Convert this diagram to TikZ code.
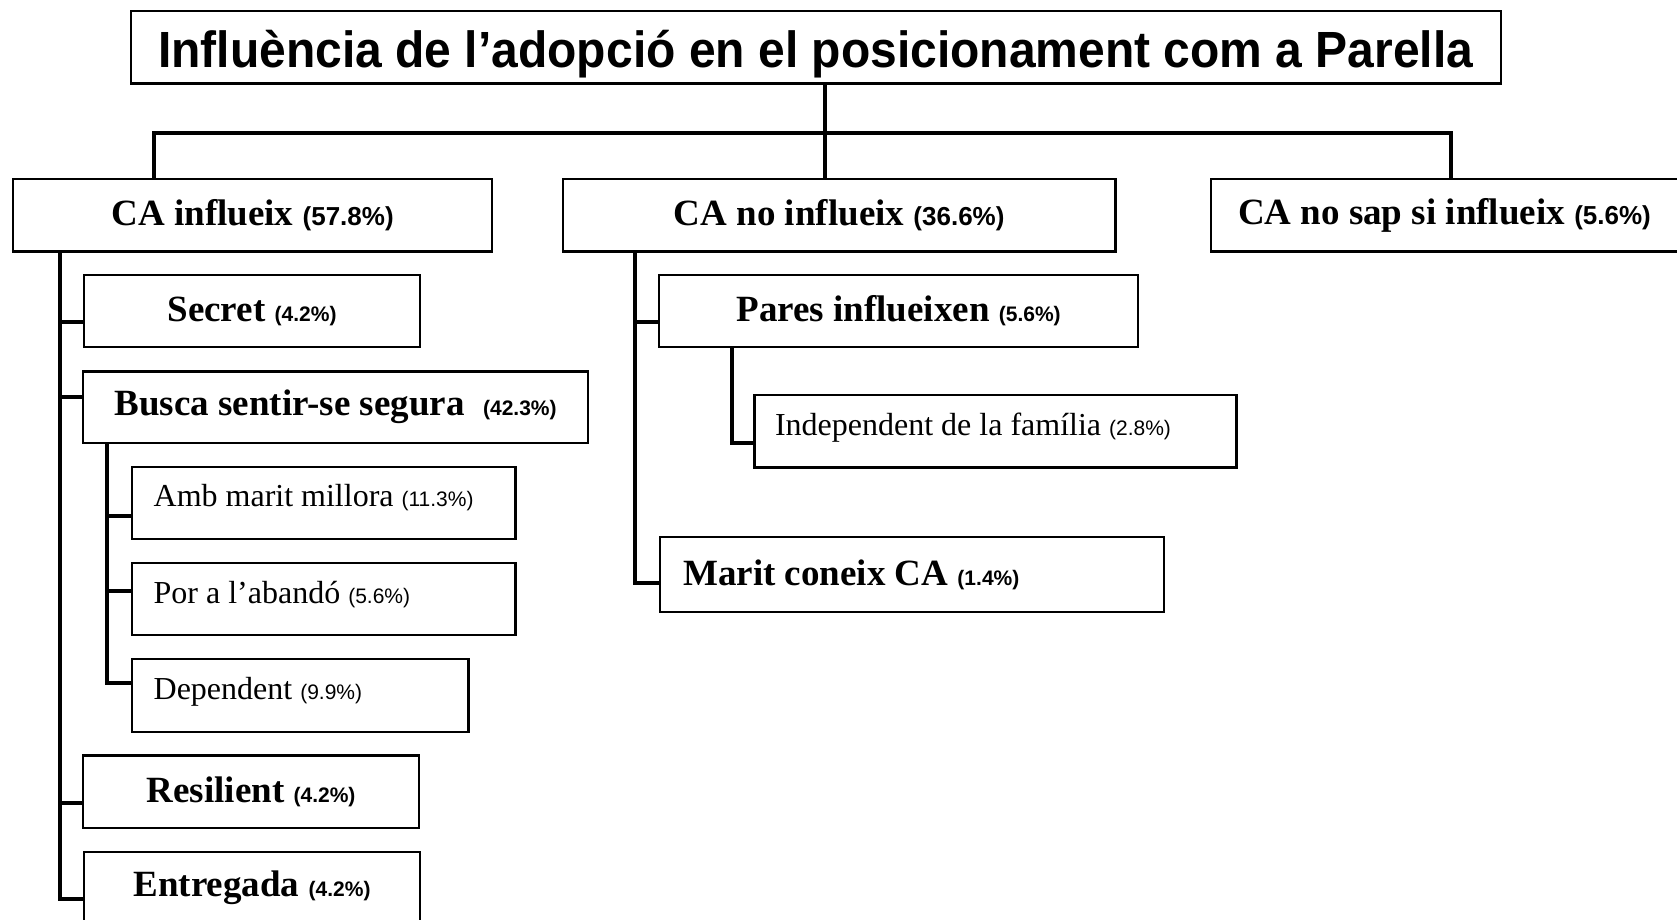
\documentclass[tikz,border=0pt]{standalone}
\usepackage{fontspec}
\setmainfont{Liberation Serif}
\newfontfamily\arialf{Liberation Sans}
\newcommand{\mytitlef}{\arialf\bfseries\fontsize{48}{52}\selectfont}
\newcommand{\mytb}{\fontsize{37}{40}\selectfont\bfseries}
\newcommand{\mypa}{\arialf\bfseries\fontsize{26}{28}\selectfont}
\newcommand{\mypb}{\arialf\bfseries\fontsize{21}{23}\selectfont}
\newcommand{\mytr}{\fontsize{32}{34}\selectfont}
\newcommand{\mypr}{\arialf\fontsize{21}{23}\selectfont}
\tikzset{
  box/.style={draw=black, line width=1.5pt, rectangle, inner sep=0pt, anchor=north west, fill=white},
  lbox/.style={box},
  tbox/.style={lbox, text height=20pt, text depth=12pt},
  conn/.style={line width=4pt, draw=black, line join=miter},
  connshadow/.style={line width=3pt, draw=black!35, line join=miter, yshift=-3pt},
}
\begin{document}
\begin{tikzpicture}[x=1pt,y=-1pt]
\useasboundingbox (0,0) rectangle (1677,920);

% ---------- nodes ----------
\node[box, minimum width=1369, minimum height=71.7, text height=40.4pt, text depth=0pt, font=\mytitlef] (title) at (130.5,10.7)
  {\scalebox{1}[1.06]{Influència de l’adopció en el posicionament com a Parella}};

\node[box, minimum width=478.1, minimum height=71.7, font=\mytb] (A) at (12.8,178.6)
  {CA influeix {\mypa (57.8\%)}};
\node[box, minimum width=551.8, minimum height=71.7, font=\mytb] (B) at (562.6,178.6)
  {CA no influeix {\mypa (36.6\%)}};
\node[box, minimum width=466, minimum height=71.7, font=\mytb] (C) at (1210.7,178.6)
  {CA no sap si influeix {\mypa (5.6\%)}};

\node[box, minimum width=335.8, minimum height=70.6, font=\mytb] (secret) at (83.4,274.9)
  {Secret {\mypb (4.2\%)}};
\node[box, minimum width=504.8, minimum height=70.6, font=\mytb] (busca) at (82.4,371.1)
  {Busca sentir-se segura~ {\mypb (42.3\%)}};
\node[tbox, minimum width=382.9, minimum height=71.7, font=\mytr] (amb) at (131.5,466.3)
  {\makebox[340.1pt][l]{Amb marit millora {\mypr (11.3\%)}}};
\node[tbox, minimum width=382.9, minimum height=71.6, font=\mytr] (por) at (131.5,562.6)
  {\makebox[340.1pt][l]{Por a l’abandó {\mypr (5.6\%)}}};
\node[tbox, minimum width=335.9, minimum height=71.7, font=\mytr] (dep) at (131.5,658.8)
  {\makebox[293.1pt][l]{Dependent {\mypr (9.9\%)}}};
\node[box, minimum width=335.8, minimum height=71.6, font=\mytb] (resil) at (82.4,755.1)
  {Resilient {\mypb (4.2\%)}};
\node[box, minimum width=335.8, minimum height=71.6, font=\mytb] (entreg) at (83.4,851.3)
  {Entregada {\mypb (4.2\%)}};

\node[box, minimum width=478.1, minimum height=70.6, font=\mytb] (pares) at (658.8,274.9)
  {Pares influeixen {\mypb (5.6\%)}};
\node[tbox, minimum width=481.3, minimum height=71.7, font=\mytr] (indep) at (754,394.6)
  {\makebox[440.7pt][l]{Independent de la família {\mypr (2.8\%)}}};
\node[lbox, minimum width=502.6, minimum height=73.8, font=\mytb] (marit) at (659.9,536.9)
  {\makebox[457.6pt][l]{Marit coneix CA {\mypb (1.4\%)}}};

% ---------- junction coordinates ----------
\coordinate (barL) at (154,132.6);
\coordinate (barM) at (824.6,132.6);
\coordinate (barR) at (1451.3,132.6);

\coordinate (jS) at (59.9,322);
\coordinate (jB) at (59.9,396.7);
\coordinate (jR) at (59.9,802.7);
\coordinate (jE) at (59.9,899.3);

\coordinate (jAm) at (106.7,515.7);
\coordinate (jP) at (106.7,590.7);
\coordinate (jD) at (106.7,683.3);

\coordinate (jPa) at (635.3,321.7);
\coordinate (jM) at (635.3,583.3);
\coordinate (jI) at (731.5,442.7);

% ---------- connectors ----------
\foreach \s in {connshadow,conn}{
  \draw[\s] (title.south -| barM) -- (barM);
  \draw[\s] (barL |- A.north) -- (barL) -- (barR) -- (barR |- C.north);
  \draw[\s] (barM) -- (barM |- B.north);
  % under A
  \draw[\s] (A.south -| jE) -- (jE) -- (jE -| entreg.west);
  \draw[\s] (jS) -- (jS -| secret.west);
  \draw[\s] (jB) -- (jB -| busca.west);
  \draw[\s] (jR) -- (jR -| resil.west);
  % under busca
  \draw[\s] (busca.south -| jD) -- (jD) -- (jD -| dep.west);
  \draw[\s] (jAm) -- (jAm -| amb.west);
  \draw[\s] (jP) -- (jP -| por.west);
  % under B
  \draw[\s] (B.south -| jM) -- (jM) -- (jM -| marit.west);
  \draw[\s] (jPa) -- (jPa -| pares.west);
  % under pares
  \draw[\s] (pares.south -| jI) -- (jI) -- (jI -| indep.west);
}

% redraw box outlines on top of connectors
\foreach \n in {title,A,B,C,secret,busca,amb,por,dep,resil,entreg,pares,indep,marit}{
  \draw[line width=1.5pt] (\n.north west) rectangle (\n.south east);
}
\end{tikzpicture}
\end{document}
